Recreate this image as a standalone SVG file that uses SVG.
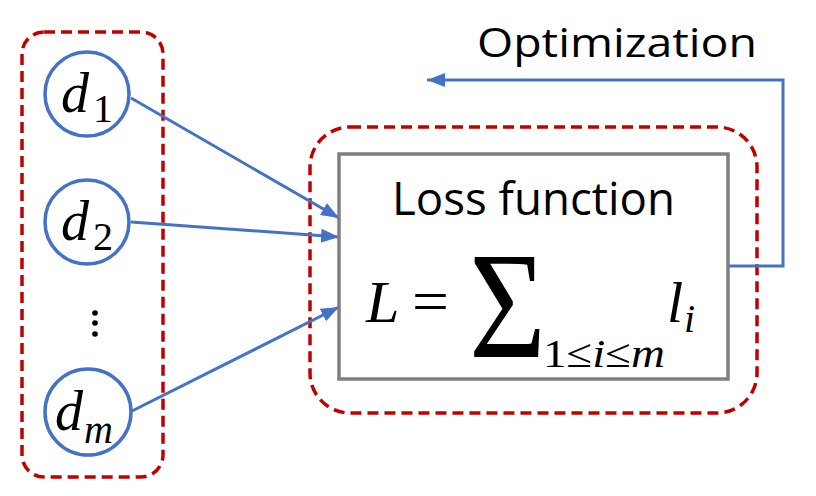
<svg xmlns="http://www.w3.org/2000/svg" width="816" height="496" viewBox="0 0 816 496">
<defs>
<style>
.grp{fill:none;stroke:#C00000;stroke-width:3.5;stroke-dasharray:11 6}
.node{fill:#fff;stroke:#4472C4;stroke-width:3.5}
.conn{fill:none;stroke:#4472C4;stroke-width:3}
.m{font-family:"Liberation Serif","DejaVu Serif",serif;font-style:italic;fill:#000}
.r{font-family:"Liberation Serif","DejaVu Serif",serif;fill:#000}
.t{font-family:"Open Sans","Liberation Sans",sans-serif;fill:#000}
</style>
<marker id="ah" markerUnits="userSpaceOnUse" markerWidth="20" markerHeight="16" refX="18" refY="7" orient="auto" viewBox="0 0 20 14">
<path d="M0,0 L18,7 L0,14 Z" fill="#4472C4"/>
</marker>
</defs>
<rect width="816" height="496" fill="#fff"/>
<g id="group-data">
<rect class="grp" x="22" y="32" width="141" height="445" rx="22"/>
</g>
<g id="group-loss">
<rect class="grp" x="310" y="127" width="447" height="286" rx="40"/>
</g>
<g id="connectors">
<line class="conn" x1="131" y1="98" x2="339" y2="218" marker-end="url(#ah)"/>
<line class="conn" x1="131" y1="222" x2="339" y2="237" marker-end="url(#ah)"/>
<line class="conn" x1="130" y1="412" x2="339" y2="307" marker-end="url(#ah)"/>
<polyline class="conn" points="728,266 783,266 783,80 427,80" marker-end="url(#ah)"/>
</g>
<g id="node-d1">
<circle class="node" cx="87" cy="94" r="42"/>
<text class="m" x="61" y="112" font-size="56">d</text>
<text class="r" x="93" y="122" font-size="40">1</text>
</g>
<g id="node-d2">
<circle class="node" cx="87" cy="222" r="42"/>
<text class="m" x="61" y="240" font-size="56">d</text>
<text class="r" x="93" y="250" font-size="40">2</text>
</g>
<g id="node-dots">
<circle cx="95" cy="313" r="2.8" fill="#000"/>
<circle cx="95" cy="323" r="2.8" fill="#000"/>
<circle cx="95" cy="334" r="2.8" fill="#000"/>
</g>
<g id="node-dm">
<circle class="node" cx="88" cy="412" r="43"/>
<text class="m" x="55" y="430" font-size="56">d</text>
<text class="m" x="84" y="443" font-size="40">m</text>
</g>
<g id="node-loss">
<rect x="339" y="154" width="389" height="225" fill="#fff" stroke="#7F7F7F" stroke-width="3.5"/>
<text class="t" x="392" y="215" font-size="45" textLength="283" lengthAdjust="spacingAndGlyphs">Loss function</text>
<text class="m" x="366" y="322" font-size="60">L</text>
<text class="r" x="412" y="322" font-size="62" textLength="37" lengthAdjust="spacingAndGlyphs">=</text>
<text class="r" x="0" y="0" font-size="152" transform="translate(469,357) scale(0.87,1)">Σ</text>
<text class="r" x="543" y="367" font-size="40" textLength="122" lengthAdjust="spacingAndGlyphs">1≤<tspan class="m">i</tspan>≤<tspan class="m">m</tspan></text>
<text class="m" x="667" y="322" font-size="58">l</text>
<text class="m" x="684" y="332" font-size="40">i</text>
</g>
<g id="label-opt">
<text class="t" x="477" y="57" font-size="41" textLength="280" lengthAdjust="spacingAndGlyphs">Optimization</text>
</g>
</svg>
